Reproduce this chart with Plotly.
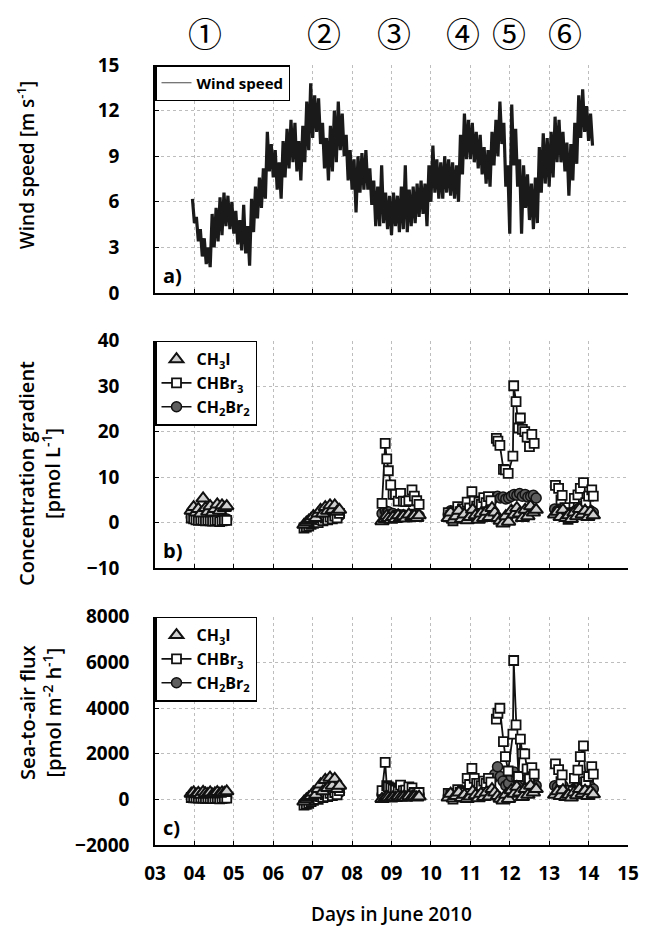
import plotly.graph_objects as go

# ---------------- data ----------------
day_ticks = [3, 4, 5, 6, 7, 8, 9, 10, 11, 12, 13, 14, 15]
day_labels = ["03", "04", "05", "06", "07", "08", "09", "10", "11", "12", "13", "14", "15"]

# wind speed: upper / lower envelope read every 0.1 day starting 3.95 (lower at +0.05 d)
wind_t0 = 3.95
wind_hi = [6.2, 5.0, 4.2, 3.6, 3.0, 5.2, 5.6, 6.3, 6.6, 6.4,
           6.0, 5.4, 4.8, 5.8, 4.4, 6.2, 7.0, 7.6, 8.2, 10.6,
           9.8, 9.4, 8.6, 10.0, 10.8, 11.4, 11.2, 10.0, 11.0, 12.6,
           13.8, 13.0, 12.8, 11.2, 10.2, 11.0, 12.0, 12.6, 11.8, 10.4,
           9.4, 8.8, 9.0, 9.2, 9.4, 8.2, 7.4, 7.0, 8.4, 6.6,
           6.4, 6.6, 6.4, 7.0, 8.4, 6.8, 7.0, 7.2, 7.4, 7.2,
           8.4, 9.7, 8.8, 8.6, 9.0, 8.8, 8.6, 8.4, 10.4, 11.8,
           11.4, 11.2, 10.6, 10.4, 9.6, 9.4, 10.6, 11.4, 12.6, 11.2,
           8.4, 12.4, 10.8, 8.8, 8.4, 7.8, 7.2, 7.6, 9.6, 10.5,
           10.2, 10.6, 11.6, 11.4, 10.6, 9.9, 9.8, 11.2, 13.0, 13.4,
           12.3, 11.8]
wind_lo = [4.6, 3.4, 2.4, 1.9, 1.7, 3.0, 3.4, 3.8, 4.4, 4.2,
           3.9, 3.2, 2.8, 2.6, 1.8, 4.0, 4.9, 5.6, 6.2, 8.0,
           7.6, 6.8, 6.2, 7.6, 8.2, 8.6, 8.0, 7.4, 8.6, 9.4,
           10.2, 10.6, 9.8, 8.2, 7.4, 8.0, 8.6, 9.4, 9.0, 7.4,
           6.8, 5.3, 6.6, 6.8, 6.8, 5.8, 4.4, 4.4, 4.6, 4.2,
           3.8, 4.4, 4.0, 4.2, 4.0, 4.4, 4.6, 5.0, 5.2, 4.4,
           6.0, 6.6, 6.2, 6.2, 6.6, 6.4, 6.2, 6.0, 7.8, 8.8,
           8.8, 8.6, 8.2, 7.8, 7.2, 7.0, 8.4, 9.0, 9.8, 7.0,
           3.9, 8.4, 7.0, 3.9, 5.6, 4.8, 4.2, 4.6, 6.6, 7.2,
           7.0, 7.6, 8.6, 8.6, 8.0, 6.4, 7.4, 8.5, 10.2, 10.6,
           10.0, 9.7]

# sampling days of the measurement clusters
d1 = [3.92, 3.98, 4.04, 4.10, 4.16, 4.22, 4.28, 4.34, 4.40, 4.46, 4.52, 4.58, 4.64, 4.70, 4.76, 4.82]
d2 = [6.78, 6.84, 6.90, 6.96, 7.02, 7.08, 7.14, 7.20, 7.26, 7.32, 7.38, 7.44, 7.50, 7.56, 7.62, 7.68]
d3 = [8.76, 8.84, 8.88, 8.92, 8.98, 9.04, 9.10, 9.17, 9.23, 9.30, 9.36, 9.44, 9.52, 9.58, 9.64, 9.70]
d4_br3 = [10.44, 10.50, 10.56, 10.62, 10.68, 10.74, 10.80, 10.86, 10.92, 10.98, 11.04, 11.10, 11.16,
          11.22, 11.28, 11.34, 11.40, 11.46, 11.52]
d5_br3 = [11.66, 11.70, 11.75, 11.84, 11.89, 11.96, 12.08, 12.10, 12.16, 12.22, 12.27, 12.32, 12.38,
          12.44, 12.50, 12.56, 12.62]
d45 = [10.44, 10.50, 10.57, 10.64, 10.71, 10.78, 10.85, 10.92, 10.99, 11.06, 11.13, 11.20, 11.27,
       11.34, 11.41, 11.48, 11.55, 11.62, 11.69, 11.76, 11.83, 11.90, 11.97, 12.04, 12.11, 12.18,
       12.25, 12.32, 12.39, 12.46, 12.53, 12.60, 12.67]
d6_br3 = [13.16, 13.24, 13.30, 13.33, 13.40, 13.48, 13.54, 13.60, 13.64, 13.73, 13.79, 13.87, 13.93,
          14.00, 14.08, 14.12]
d6 = [13.14, 13.21, 13.28, 13.35, 13.42, 13.49, 13.56, 13.63, 13.70, 13.77, 13.84, 13.91, 13.98, 14.05, 14.12]

# concentration gradient [pmol L-1]
ch3i_b1 = [2.6, 3.4, 2.2, 3.0, 2.0, 5.3, 3.2, 2.4, 3.6, 2.2, 3.0, 4.0, 2.6, 3.8, 3.2, 3.6]
chbr3_b1 = [1.0, 0.8, 0.6, 0.5, 0.6, 0.5, 0.4, 0.5, 0.4, 0.3, 0.4, 0.5, 0.2, 0.4, 0.5, 0.5]
ch2br2_b1 = [1.2, 1.0, 1.1, 0.9, 1.0, 0.8, 0.9, 0.8, 0.7, 0.8, 0.9, 0.7, 0.8, 0.9, 0.7, 0.8]
ch3i_b2 = [-0.5, 0.0, 0.4, 0.8, 1.4, 1.0, 2.0, 2.8, 2.0, 3.4, 2.6, 3.8, 2.8, 3.8, 2.4, 2.8]
chbr3_b2 = [-1.2, -1.0, -0.8, -0.4, -0.2, 0.2, 0.0, 0.6, 0.4, 1.0, 0.6, 1.2, 0.8, 1.4, 1.0, 2.0]
ch2br2_b2 = [-0.8, -0.6, -0.3, 0.0, 0.3, 0.5, 0.4, 0.8, 1.0, 0.9, 1.2, 1.1, 1.3, 1.2, 1.4, 1.5]
ch3i_b3 = [0.3, 0.8, 1.5, 1.0, 0.6, 1.2, 0.8, 1.6, 1.0, 1.4, 0.9, 1.8, 1.2, 1.5, 1.0, 1.6]
chbr3_b3 = [4.2, 17.4, 14.0, 11.4, 8.3, 6.2, 6.2, 4.7, 6.4, 4.7, 4.6, 4.8, 7.2, 5.8, 4.8, 4.0]
ch2br2_b3 = [2.0, 2.6, 2.2, 2.4, 1.8, 2.0, 1.6, 1.8, 1.6, 1.7, 1.5, 1.6, 1.8, 1.6, 1.7, 1.5]
chbr3_b4 = [2.2, 1.7, 0.4, 2.0, 3.5, 2.4, 3.0, 2.2, 4.5, 3.2, 6.8, 4.7, 3.6, 4.5, 4.0, 5.5, 4.4, 5.7, 4.8]
chbr3_b5 = [18.5, 17.9, 17.0, 11.7, 11.6, 10.8, 14.6, 30.1, 26.6, 20.8, 23.0, 20.5, 20.0, 18.8, 16.7, 19.4, 17.4]
ch3i_b45 = [1.0, 2.2, 0.6, 1.4, 2.6, 0.8, 1.8, 0.5, 1.2, 2.8, 1.6, 0.6, 2.0, 1.0, 2.4, 1.2, 3.2,
            2.2, 1.0, 0.4, -0.2, 1.4, 0.2, 2.6, 1.8, 3.2, 2.0, 1.0, 2.8, 1.4, 3.6, 2.2, 2.8]
ch2br2_b45 = [1.8, 2.6, 1.4, 2.2, 2.8, 2.0, 3.2, 2.4, 3.0, 3.6, 2.8, 3.4, 4.0, 4.6, 5.2, 5.4, 5.0,
              5.6, 5.8, 5.4, 5.6, 5.2, 5.4, 5.8, 6.2, 6.0, 6.4, 5.8, 6.2, 5.6, 5.8, 6.0, 5.4]
chbr3_b6 = [8.2, 7.5, 5.0, 6.0, 3.3, 0.7, 2.2, 1.8, 5.3, 6.1, 7.5, 8.8, 4.4, 5.8, 7.2, 5.8]
ch3i_b6 = [1.8, 2.4, 1.2, 2.8, 1.0, 1.6, 0.8, 2.2, 1.4, 3.0, 1.8, 2.6, 1.2, 2.4, 1.6]
ch2br2_b6 = [3.0, 2.6, 2.2, 2.8, 1.8, 1.6, 1.4, 2.4, 2.8, 3.2, 3.6, 2.8, 3.0, 2.6, 2.2]

# sea-to-air flux [pmol m-2 h-1]
ch3i_c1 = [250, 300, 220, 280, 200, 330, 260, 230, 300, 210, 260, 320, 240, 300, 280, 350]
chbr3_c1 = [80, 70, 60, 50, 60, 50, 40, 50, 40, 30, 40, 50, 20, 40, 50, 50]
ch2br2_c1 = [110, 100, 100, 90, 100, 80, 90, 80, 70, 80, 90, 70, 80, 90, 70, 80]
ch3i_c2 = [-100, 0, 80, 150, 300, 200, 450, 650, 350, 850, 500, 950, 600, 900, 450, 600]
chbr3_c2 = [-250, -220, -180, -100, -40, 40, 0, 120, 80, 200, 120, 260, 160, 300, 200, 380]
ch2br2_c2 = [-150, -120, -60, 0, 60, 100, 80, 160, 200, 180, 240, 220, 260, 240, 280, 300]
ch3i_c3 = [20, 60, 120, 80, 40, 100, 60, 130, 80, 110, 70, 140, 100, 120, 80, 120]
chbr3_c3 = [380, 1620, 600, 550, 500, 450, 400, 350, 620, 380, 400, 550, 500, 300, 200, 300]
ch2br2_c3 = [200, 350, 300, 320, 250, 280, 220, 250, 230, 240, 210, 230, 250, 220, 230, 200]
chbr3_c4 = [260, 200, 10, 240, 420, 300, 380, 300, 920, 650, 1360, 920, 700, 700, 600, 800, 700, 920, 750]
chbr3_c5 = [3510, 3770, 3990, 2530, 1870, 1240, 2860, 6080, 3260, 1000, 2640, 2000, 1990, 1330, 900, 1390, 1100]
ch3i_c45 = [80, 250, 40, 150, 300, 60, 200, 20, 120, 350, 180, 50, 250, 100, 300, 120, 450,
            300, 150, 30, -50, 200, 20, 400, 250, 550, 300, 100, 450, 200, 600, 300, 450]
ch2br2_c45 = [150, 250, 120, 220, 300, 200, 350, 250, 330, 420, 320, 400, 500, 600, 700, 800, 900,
              1100, 1430, 1000, 800, 600, 700, 1000, 1200, 900, 800, 700, 850, 600, 750, 800, 600]
chbr3_c6 = [1550, 1300, 780, 1070, 380, 250, 400, 350, 920, 1280, 1870, 2340, 780, 1000, 1430, 1100]
ch3i_c6 = [200, 350, 150, 400, 100, 200, 80, 300, 180, 450, 250, 380, 150, 350, 220]
ch2br2_c6 = [600, 550, 450, 600, 350, 300, 250, 450, 550, 650, 750, 600, 650, 550, 450]

circled = ["①", "②", "③", "④", "⑤", "⑥"]
circled_days = [4.28, 7.28, 9.06, 10.81, 11.98, 13.39]


# ---------------- helpers ----------------
def join(*parts):
    out = []
    for i, p in enumerate(parts):
        if i:
            out.append(None)
        out.extend(p)
    return out


wx, wy = [], []
for i, (h, l) in enumerate(zip(wind_hi, wind_lo)):
    t = wind_t0 + 0.1 * i
    wx += [t, t + 0.05]
    wy += [h, l]

FONT = "Open Sans, Roboto, sans-serif"
DARK = "#111111"

fig = go.Figure()
fig.add_trace(go.Scatter(x=wx, y=wy, mode="lines", name="Wind speed", showlegend=False,
                         line=dict(color="#1a1a1a", width=3.2, simplify=False),
                         xaxis="x", yaxis="y"))
# legend entry (thin grey sample line as in the original legend)
fig.add_trace(go.Scatter(x=[None], y=[None], mode="lines", name="Wind speed",
                         line=dict(color="#4a4a4a", width=1.2),
                         xaxis="x", yaxis="y", legend="legend"))

names = {"ch3i": "CH<sub>3</sub>I", "chbr3": "CHBr<sub>3</sub>", "ch2br2": "CH<sub>2</sub>Br<sub>2</sub>"}


def add_species(xa, ya, leg, xs_i, ys_i, xs_b, ys_b, xs_c, ys_c):
    fig.add_trace(go.Scatter(x=xs_c, y=ys_c, mode="lines+markers", name=names["ch2br2"],
                             line=dict(color=DARK, width=1.6),
                             marker=dict(symbol="circle", size=10, color="#5e5e5e",
                                         line=dict(color=DARK, width=1.5)),
                             xaxis=xa, yaxis=ya, legend=leg, legendrank=3))
    fig.add_trace(go.Scatter(x=xs_b, y=ys_b, mode="lines+markers", name=names["chbr3"],
                             line=dict(color=DARK, width=1.8),
                             marker=dict(symbol="square", size=9, color="white",
                                         line=dict(color=DARK, width=1.8)),
                             xaxis=xa, yaxis=ya, legend=leg, legendrank=2))
    fig.add_trace(go.Scatter(x=xs_i, y=ys_i, mode="markers", name=names["ch3i"],
                             marker=dict(symbol="triangle-up", size=12, color="#cfcfcf",
                                         line=dict(color=DARK, width=2.0)),
                             xaxis=xa, yaxis=ya, legend=leg, legendrank=1))


add_species("x2", "y2", "legend2",
            join(d1, d2, d3, d45, d6), join(ch3i_b1, ch3i_b2, ch3i_b3, ch3i_b45, ch3i_b6),
            join(d1, d2, d3, d4_br3, d5_br3, d6_br3),
            join(chbr3_b1, chbr3_b2, chbr3_b3, chbr3_b4, chbr3_b5, chbr3_b6),
            join(d1, d2, d3, d45, d6), join(ch2br2_b1, ch2br2_b2, ch2br2_b3, ch2br2_b45, ch2br2_b6))
add_species("x3", "y3", "legend3",
            join(d1, d2, d3, d45, d6), join(ch3i_c1, ch3i_c2, ch3i_c3, ch3i_c45, ch3i_c6),
            join(d1, d2, d3, d4_br3, d5_br3, d6_br3),
            join(chbr3_c1, chbr3_c2, chbr3_c3, chbr3_c4, chbr3_c5, chbr3_c6),
            join(d1, d2, d3, d45, d6), join(ch2br2_c1, ch2br2_c2, ch2br2_c3, ch2br2_c45, ch2br2_c6))

# ---------------- layout ----------------
tickfont = dict(family=FONT, size=19, color="black", weight="bold")
grid = dict(showgrid=True, gridcolor="#bdbdbd", griddash="dot", gridwidth=1,
            showline=True, linecolor="black", linewidth=1.5, ticks="inside", ticklen=4,
            tickcolor="black", tickwidth=1.2, zeroline=False, tickfont=tickfont)

dom_a = [0.7077, 1.0]
dom_b = [0.3551, 0.6465]
dom_c = [0.0, 0.2927]

xcommon = dict(range=[3, 15], tickvals=day_ticks, ticktext=day_labels, **grid)
fig.update_layout(
    width=651, height=926,
    margin=dict(l=155, r=15, t=65, b=81),
    paper_bgcolor="white", plot_bgcolor="white",
    font=dict(family=FONT, color="black"),
    xaxis=dict(anchor="y", domain=[0, 1], showticklabels=False, **xcommon),
    xaxis2=dict(anchor="y2", domain=[0, 1], showticklabels=False, **xcommon),
    xaxis3=dict(anchor="y3", domain=[0, 1], showticklabels=True, ticklabelstandoff=10, **xcommon),
    yaxis=dict(anchor="x", domain=dom_a, range=[0, 15], tickvals=[0, 3, 6, 9, 12, 15],
               ticklabelstandoff=30, **grid),
    yaxis2=dict(anchor="x2", domain=dom_b, range=[-10, 40], tickvals=[-10, 0, 10, 20, 30, 40],
                ticklabelstandoff=30, **grid),
    yaxis3=dict(anchor="x3", domain=dom_c, range=[-2000, 8000],
                tickvals=[-2000, 0, 2000, 4000, 6000, 8000], ticklabelstandoff=20, **grid),
    showlegend=True,
)

legstyle = dict(x=0, xanchor="left", yanchor="top", bgcolor="white", bordercolor="black",
                borderwidth=1.5, itemwidth=30, tracegroupgap=0, traceorder="normal")
fig.update_layout(
    legend=dict(y=dom_a[1], font=dict(family=FONT, size=15, weight="bold"), **legstyle),
    legend2=dict(y=dom_b[1], font=dict(family=FONT, size=16, weight="bold"), **legstyle),
    legend3=dict(y=dom_c[1], font=dict(family=FONT, size=16, weight="bold"), **legstyle),
)

ann = []
for lab, xa, ya in (("a)", "x", "y"), ("b)", "x2", "y2"), ("c)", "x3", "y3")):
    ann.append(dict(text=lab, xref=xa + " domain", yref=ya + " domain", x=0.012, y=0.01,
                    xanchor="left", yanchor="bottom", showarrow=False,
                    font=dict(family=FONT, size=20, weight="bold")))
for txt, d in zip(circled, circled_days):
    ann.append(dict(text=txt, x=d, xref="x", y=1.0423, yref="paper", showarrow=False,
                    xanchor="center", yanchor="middle",
                    font=dict(family="Noto Sans CJK JP, DejaVu Sans", size=34, color="black")))

title_font = dict(family=FONT, size=20, weight=600, color="black")
ann.append(dict(text="Wind speed [m s<sup>-1</sup>]", x=-0.2723, y=(845 - 165) / 780,
                xref="paper", yref="paper", textangle=-90, showarrow=False,
                xanchor="center", yanchor="middle", font=dict(family=FONT, size=19, weight=600)))
ann.append(dict(text="Concentration gradient<br>[pmol L<sup>-1</sup>]", x=-0.2432, y=(845 - 473) / 780,
                xref="paper", yref="paper", textangle=-90, showarrow=False,
                xanchor="center", yanchor="middle", font=title_font))
ann.append(dict(text="Sea-to-air flux<br>[pmol m<sup>-2</sup> h<sup>-1</sup>]", x=-0.2432, y=(845 - 712) / 780,
                xref="paper", yref="paper", textangle=-90, showarrow=False,
                xanchor="center", yanchor="middle", font=title_font))
ann.append(dict(text="Days in June 2010", x=0.5, y=(845 - 914) / 780, xref="paper", yref="paper",
                showarrow=False, xanchor="center", yanchor="middle",
                font=dict(family=FONT, size=19, weight=600, color="black")))
fig.update_layout(annotations=ann)

fig.write_html("out.html")
